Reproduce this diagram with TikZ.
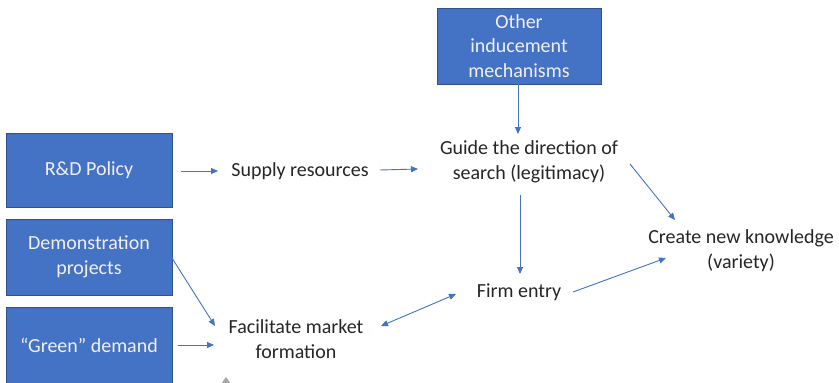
\documentclass[tikz,border=0pt]{standalone}
\usepackage{fontspec}
\setmainfont{Carlito}
\usetikzlibrary{arrows.meta}
\definecolor{boxblue}{HTML}{4472C4}
\definecolor{boxedge}{HTML}{2F528F}
\definecolor{txt}{HTML}{262626}
\definecolor{boxtxt}{HTML}{F0F0F0}
\begin{document}
\begin{tikzpicture}[x=1pt,y=-1pt,
  blue box/.style={draw=boxedge,line width=0.8pt,fill=boxblue,text=boxtxt,align=center,
    font=\fontsize{20}{24.5}\selectfont,inner sep=0pt},
  label text/.style={text=txt,align=center,font=\fontsize{20}{25}\selectfont,inner sep=2pt},
  conn/.style={draw=boxblue,line width=0.9pt,-{Triangle[length=7pt,width=6pt]}},
  biconn/.style={draw=boxblue,line width=0.9pt,{Triangle[length=7pt,width=6pt]}-{Triangle[length=7pt,width=6pt]}}]
\useasboundingbox (0,0) rectangle (839,383);
\fill[white] (0,0) rectangle (839,383);
% boxes
\node[blue box,minimum width=166pt,minimum height=74pt] (rd) at (89,170) {R\&D Policy};
\node[blue box,minimum width=166pt,minimum height=76pt] (demo) at (89,257) {Demonstration\\projects};
\node[blue box,minimum width=166pt,minimum height=76pt] (green) at (89,345) {“Green” demand};
\node[blue box,minimum width=164pt,minimum height=76pt] (other) at (519,46) {Other\\inducement\\mechanisms};
% plain text nodes
\node[label text] (supply) at (300,171) {Supply resources};
\node[label text] (guide) at (529,162) {Guide the direction of\\search (legitimacy)};
\node[label text] (create) at (741,251) {Create new knowledge\\(variety)};
\node[label text] (firm) at (519,292) {Firm entry};
\node[label text] (facil) at (296,339) {Facilitate market\\formation};
% anchor coordinates for connector ends
\coordinate (a1s) at (181,171); \coordinate (a1e) at (218,171);
\coordinate (a2s) at (380,170); \coordinate (a2e) at (418,169);
\coordinate (a3s) at (518,84);  \coordinate (a3e) at (518,134);
\coordinate (a4s) at (520,195); \coordinate (a4e) at (520,274);
\coordinate (a5s) at (630,164); \coordinate (a5e) at (675,220);
\coordinate (a6s) at (573,292); \coordinate (a6e) at (666,258);
\coordinate (a7s) at (456,294); \coordinate (a7e) at (381,326);
\coordinate (a8s) at (172,258); \coordinate (a8e) at (215,326);
\coordinate (a9s) at (178,345); \coordinate (a9e) at (214,345);
\draw[conn] (a1s) -- (a1e);
\draw[conn] (a2s) -- (a2e);
\draw[conn] (a3s) -- (a3e);
\draw[conn] (a4s) -- (a4e);
\draw[conn] (a5s) -- (a5e);
\draw[conn] (a6s) -- (a6e);
\draw[biconn] (a7s) -- (a7e);
\draw[conn] (a8s) -- (a8e);
\draw[conn] (a9s) -- (a9e);
% small grey mark at bottom
\fill[gray!70] (221,384) -- (226,377) -- (231,384) -- cycle;
\end{tikzpicture}
\end{document}
